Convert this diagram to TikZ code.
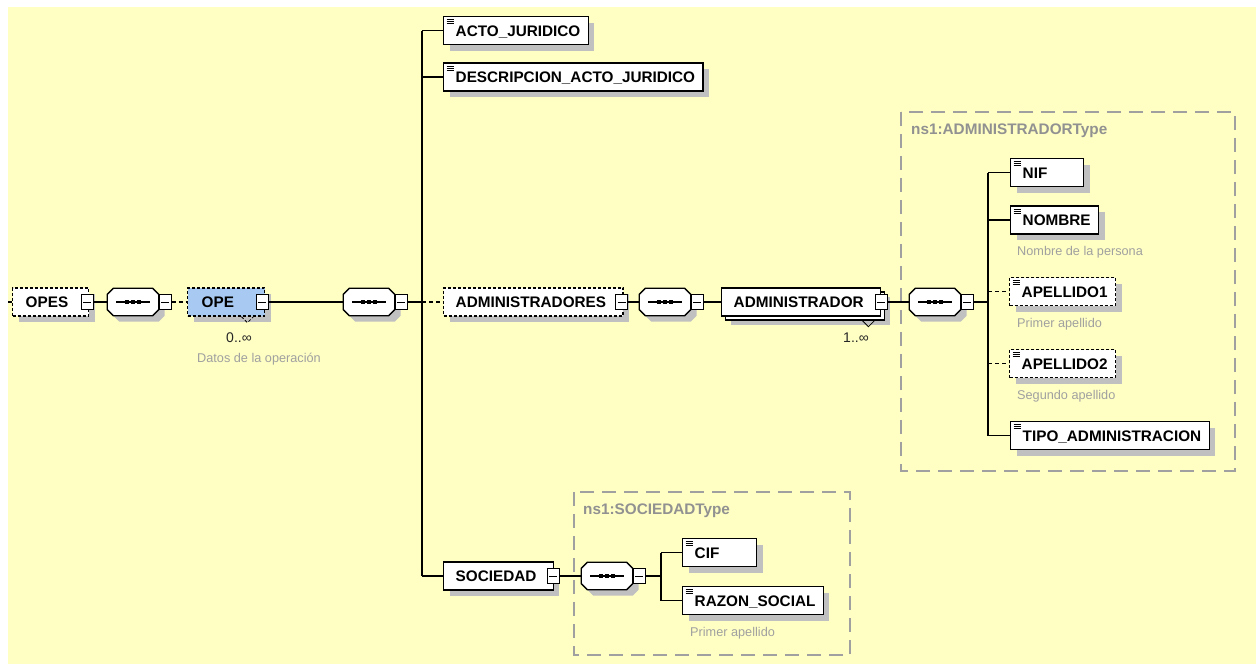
\documentclass[tikz,border=0pt]{standalone}
\usepackage{fontspec}
\setmainfont{Liberation Sans}
\usetikzlibrary{shadows,positioning}
\definecolor{xsdbg}{RGB}{255,255,196}
\definecolor{xsdblue}{RGB}{168,202,242}
\definecolor{xsdshadow}{RGB}{192,192,192}
\definecolor{xsdgray}{RGB}{145,145,145}
\definecolor{xsdnote}{RGB}{160,160,160}
\newcommand{\lbl}{\fontsize{15.3}{18}\selectfont\bfseries}
% octagon round a sequence node, shifted by #2,#3
\newcommand{\octpath}[3]{([xshift=#2+6pt,yshift=#3]#1.north west) -- ([xshift=#2-6pt,yshift=#3]#1.north east)
    -- ([xshift=#2,yshift=#3-6pt]#1.north east) -- ([xshift=#2,yshift=#3+6pt]#1.south east)
    -- ([xshift=#2-6pt,yshift=#3]#1.south east) -- ([xshift=#2+6pt,yshift=#3]#1.south west)
    -- ([xshift=#2,yshift=#3+6pt]#1.south west) -- ([xshift=#2,yshift=#3-6pt]#1.north west) -- cycle}
\tikzstyle{boxshadow} = [drop shadow={shadow xshift=6pt, shadow yshift=-6pt, fill=xsdshadow, opacity=1}]
\tikzstyle{conn} = [line width=1.2pt]
\tikzstyle{optconn} = [conn, dash pattern=on 4pt off 3pt]
\tikzstyle{opt} = [dash pattern=on 3pt off 2pt]
\tikzstyle{elembase} = [draw=black, line width=1.4pt, fill=white, rectangle, minimum height=28pt, inner xsep=8pt, inner ysep=0pt, text height=11pt, text depth=0pt, font=\lbl]
\tikzstyle{elem} = [elembase, boxshadow]
\tikzstyle{leaf} = [elem, minimum width=73pt, path picture={
    \draw[line width=0.8pt, solid] ([xshift=3pt,yshift=-3pt]path picture bounding box.north west) -- ++(7pt,0pt)
        ([xshift=3pt,yshift=-5pt]path picture bounding box.north west) -- ++(7pt,0pt)
        ([xshift=3pt,yshift=-7pt]path picture bounding box.north west) -- ++(7pt,0pt);}]
\tikzstyle{cplx} = [elem, minimum width=76pt]
\tikzstyle{minus} = [draw=black, line width=1pt, solid, fill=white, rectangle, minimum width=12pt, minimum height=15pt, inner sep=0pt, path picture={
    \draw[line width=1pt] ([xshift=2pt]path picture bounding box.west) -- ([xshift=-2pt]path picture bounding box.east);}]
\tikzstyle{seq} = [rectangle, minimum width=51pt, minimum height=27pt, inner sep=0pt]
\tikzstyle{typebox} = [draw=xsdnote, line width=1.3pt, dash pattern=on 14pt off 8pt]
\tikzstyle{typelabel} = [font=\lbl, text=xsdgray, inner sep=0pt]
\tikzstyle{note} = [font=\fontsize{12.7}{15}\selectfont, text=xsdnote, inner sep=0pt]
\tikzstyle{mult} = [font=\fontsize{14}{16}\selectfont, text=black!85, inner sep=0pt]
\tikzset{wide/.style={text width=#1, align=left}}

\begin{document}
\begin{tikzpicture}[x=1pt,y=-1pt]
    \useasboundingbox (0,0) rectangle (1256,664);
    \fill[white] (0,0) rectangle (1256,664);
    \fill[xsdbg] (8,7) rectangle (1256,664);

    % type boxes
    \draw[typebox] (901,112) rectangle (1235,471);
    \node[typelabel, anchor=west] (admtype) at (911,131) {ns1:ADMINISTRADORType};
    \draw[typebox] (574,492) rectangle (850,655);
    \node[typelabel, anchor=west] (soctype) at (583,511) {ns1:SOCIEDADType};

    % sequence symbols
    \node[seq] (seq1) at (133,302) {};
    \node[seq] (seq2) at (369,302) {};
    \node[seq] (seq3) at (665,302) {};
    \node[seq] (seq4) at (935,302) {};
    \node[seq] (seq5) at (607,576) {};
    \foreach \s in {seq1,seq2,seq3,seq4,seq5} {
        \fill[xsdshadow] \octpath{\s}{6pt}{-6pt};
        \draw[line width=1.3pt, fill=white] \octpath{\s}{0pt}{0pt};
        \draw[line width=1.2pt] ([xshift=-17pt]\s.center) -- ([xshift=17pt]\s.center);
        \foreach \d in {-6,0,6}
            \fill[black] ([xshift=\d pt]\s.center) +(-2pt,-2pt) rectangle +(2pt,2pt);
    }
    \node[minus] (mseq1) at ([xshift=6.5pt]seq1.east) {};
    \node[minus] (mseq2) at ([xshift=6.5pt]seq2.east) {};
    \node[minus] (mseq3) at ([xshift=6.5pt]seq3.east) {};
    \node[minus] (mseq4) at ([xshift=6.5pt]seq4.east) {};
    \node[minus] (mseq5) at ([xshift=6.5pt]seq5.east) {};

    % OPES -> OPE
    \coordinate (root) at (8,302);
    \node[cplx, opt, wide=60pt, anchor=west] (opes) at (12,302) {\kern5pt OPES};
    \node[minus] (mopes) at ([xshift=-2pt]opes.east) {};
    \node[cplx, opt, wide=61pt, fill=xsdblue, anchor=west] (ope) at (187,302) {\kern6pt OPE};
    \node[minus] (mope) at ([xshift=-3pt]ope.east) {};
    \draw[line width=0.8pt, opt] ([xshift=-24pt]ope.south east) -- ++(6pt,-6pt) -- ++(6pt,6pt);
    \node[mult] (opemult) at (239,338) {0..∞};
    \node[note] (openote) at (259,359) {Datos de la operación};
    \coordinate (trunk) at (422,302);

    % OPE children
    \node[leaf, anchor=west] (acto) at (443,30.5) {\kern4pt ACTO\_JURIDICO};
    \node[leaf, anchor=west] (desc) at (443,77) {\kern4pt DESCRIPCION\_ACTO\_JURIDICO};
    \node[cplx, opt, anchor=west] (admins) at (443,302) {\kern4pt ADMINISTRADORES\kern9pt};
    \node[minus] (madmins) at ([xshift=-2pt]admins.east) {};
    \node[cplx, anchor=west] (soc) at (443,576) {\kern4pt SOCIEDAD\kern9pt};
    \node[minus] (msoc) at ([xshift=-1pt]soc.east) {};

    % ADMINISTRADORES
    \node[elembase, minimum width=76pt, anchor=west,
        drop shadow={shadow xshift=9pt, shadow yshift=-9pt, fill=xsdshadow, opacity=1},
        copy shadow={shadow xshift=4pt, shadow yshift=-4pt, draw=black, fill=white, line width=1.4pt}]
        (admin) at (721,302) {\kern4pt ADMINISTRADOR\kern9pt};
    \node[minus] (madmin) at (admin.east) {};
    \draw[line width=0.8pt] ([xshift=-20pt,yshift=-3pt]admin.south east) -- ++(7pt,-7pt) -- ++(7pt,7pt);
    \node[mult] (admmult) at (856,338) {1..∞};
    \coordinate (admtrunk) at (988,302);

    % ns1:ADMINISTRADORType
    \node[leaf, wide=57pt, anchor=west] (nif) at (1010,172.5) {\kern4pt NIF};
    \node[leaf, anchor=west] (nombre) at (1010,220) {\kern4pt NOMBRE};
    \node[note, anchor=west] (nombrenote) at (1017,252) {Nombre de la persona};
    \node[leaf, opt, anchor=west] (ap1) at (1009,291.5) {\kern4pt APELLIDO1};
    \node[note, anchor=west] (ap1note) at (1017,324) {Primer apellido};
    \node[leaf, opt, anchor=west] (ap2) at (1009,363.5) {\kern4pt APELLIDO2};
    \node[note, anchor=west] (ap2note) at (1017,396) {Segundo apellido};
    \node[leaf, anchor=west] (tipo) at (1010,435.5) {\kern4pt TIPO\_ADMINISTRACION};

    % ns1:SOCIEDADType
    \coordinate (soctrunk) at (661,576);
    \node[leaf, wide=58pt, anchor=west] (cif) at (682,552.5) {\kern4pt CIF};
    \node[leaf, anchor=west] (razon) at (682,600.5) {\kern4pt RAZON\_SOCIAL};
    \node[note, anchor=west] (razonnote) at (690,633) {Primer apellido};

    % connectors
    \draw[optconn] (root) -- (opes.west);
    \draw[conn] (mopes.east) -- (seq1.west);
    \draw[optconn] (mseq1.east) -- (ope.west);
    \draw[conn] (mope.east) -- (seq2.west);
    \draw[conn] (mseq2.east) -- (trunk);
    \draw[conn] (trunk |- acto.west) -- (trunk |- soc.west);
    \draw[conn] (trunk |- acto.west) -- (acto.west);
    \draw[conn] (trunk |- desc.west) -- (desc.west);
    \draw[optconn] (trunk) -- (admins.west);
    \draw[conn] (trunk |- soc.west) -- (soc.west);
    \draw[conn] (madmins.east) -- (seq3.west);
    \draw[conn] (mseq3.east) -- (admin.west);
    \draw[conn] (madmin.east) -- (seq4.west);
    \draw[conn] (mseq4.east) -- (admtrunk);
    \draw[conn] (admtrunk |- nif.west) -- (admtrunk |- tipo.west);
    \draw[conn] (admtrunk |- nif.west) -- (nif.west);
    \draw[conn] (admtrunk |- nombre.west) -- (nombre.west);
    \draw[optconn] (admtrunk |- ap1.west) -- (ap1.west);
    \draw[optconn] (admtrunk |- ap2.west) -- (ap2.west);
    \draw[conn] (admtrunk |- tipo.west) -- (tipo.west);
    \draw[conn] (msoc.east) -- (seq5.west);
    \draw[conn] (mseq5.east) -- (soctrunk);
    \draw[conn] (soctrunk |- cif.west) -- (soctrunk |- razon.west);
    \draw[conn] (soctrunk |- cif.west) -- (cif.west);
    \draw[conn] (soctrunk |- razon.west) -- (razon.west);
\end{tikzpicture}
\end{document}
